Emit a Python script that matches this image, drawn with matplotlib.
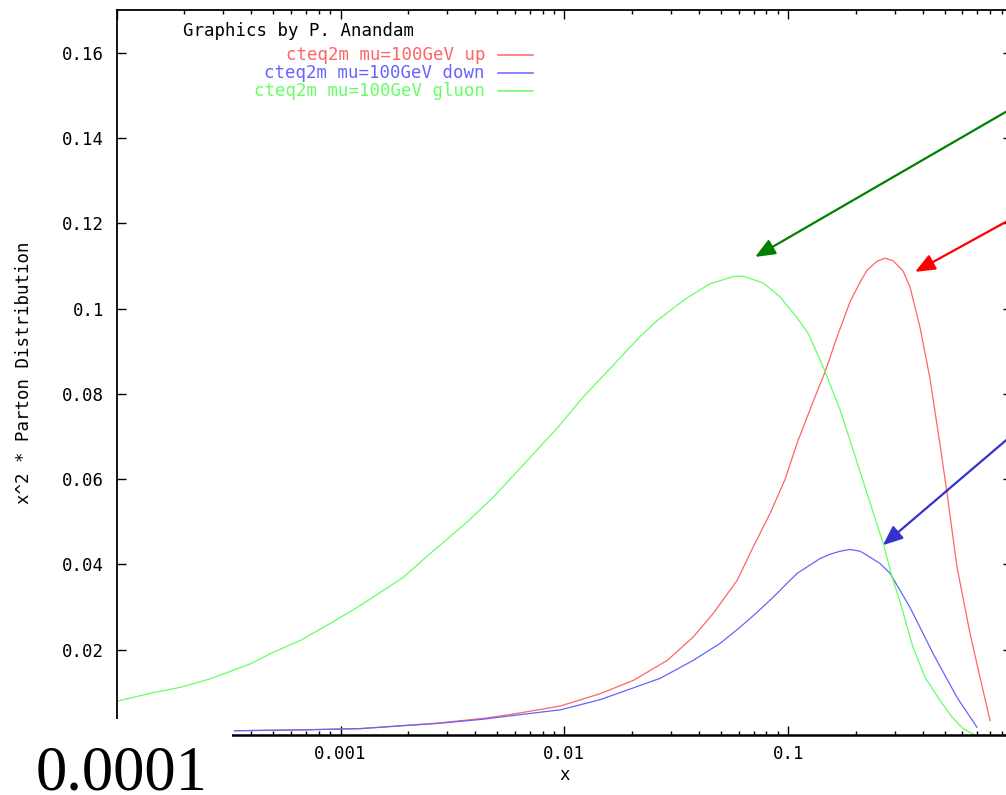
import matplotlib
matplotlib.use('Agg')
import matplotlib.pyplot as plt
from matplotlib.patches import Rectangle
from matplotlib.lines import Line2D
from matplotlib.ticker import LogLocator, FuncFormatter, NullFormatter

# values (x on log scale)
gluon_x = [1.000e-4, 1.418e-4, 1.931e-4, 2.628e-4, 3.965e-4, 4.870e-4, 6.629e-4,
           9.022e-4, 1.228e-3, 1.911e-3, 2.522e-3, 3.689e-3, 4.820e-3, 6.362e-3,
           9.306e-3, 1.2155e-2, 1.605e-2, 2.184e-2, 2.601e-2, 3.196e-2, 3.578e-2,
           4.484e-2, 5.681e-2, 6.296e-2, 7.731e-2, 9.211e-2, 0.1097, 0.1228, 0.1390,
           0.1463, 0.1707, 0.1891, 0.2096, 0.2655, 0.2913, 0.3162, 0.3614, 0.4090,
           0.4771, 0.5396, 0.6043, 0.6837]
gluon_y = [0.0079, 0.0098, 0.0112, 0.0132, 0.0167, 0.0191, 0.0222, 0.0262, 0.0304,
           0.0370, 0.0426, 0.0500, 0.0558, 0.0626, 0.0720, 0.0793, 0.0860, 0.0935,
           0.0972, 0.1008, 0.1027, 0.1058, 0.1075, 0.1076, 0.1060, 0.1027, 0.0978,
           0.0942, 0.0879, 0.0852, 0.0762, 0.0690, 0.0617, 0.0450, 0.0370, 0.0312,
           0.0205, 0.0135, 0.0081, 0.0042, 0.0015, 0.0000]

up_x = [3.363e-4, 6.629e-4, 1.228e-3, 2.710e-3, 4.347e-3, 5.741e-3, 9.597e-3,
        1.448e-2, 2.033e-2, 2.883e-2, 3.766e-2, 4.625e-2, 5.920e-2, 6.979e-2,
        8.310e-2, 9.696e-2, 0.1097, 0.1293, 0.1463, 0.1655, 0.1891, 0.2096, 0.2253,
        0.2496, 0.2710, 0.2943, 0.3261, 0.3504, 0.3885, 0.4304, 0.4771, 0.5126,
        0.5682, 0.6494, 0.7197, 0.7978]
up_y = [0.0010, 0.0012, 0.0015, 0.0028, 0.0039, 0.0048, 0.0068, 0.0097, 0.0128,
        0.0175, 0.0230, 0.0285, 0.0363, 0.0441, 0.0520, 0.0600, 0.0685, 0.0782,
        0.0852, 0.0934, 0.1016, 0.1062, 0.1090, 0.1111, 0.1118, 0.1112, 0.1088,
        0.1050, 0.0955, 0.0835, 0.0680, 0.0567, 0.0393, 0.0238, 0.0135, 0.0034]

down_x = [3.363e-4, 6.629e-4, 1.228e-3, 2.710e-3, 4.347e-3, 5.741e-3, 9.597e-3,
          1.448e-2, 2.683e-2, 3.766e-2, 4.970e-2, 6.105e-2, 7.272e-2, 8.570e-2,
          9.898e-2, 0.1097, 0.1390, 0.1540, 0.1707, 0.1891, 0.2096, 0.2323, 0.2574,
          0.2853, 0.3504, 0.4439, 0.5682, 0.6977]
down_y = [0.0010, 0.0012, 0.0015, 0.0027, 0.0037, 0.0045, 0.0059, 0.0083, 0.0133,
          0.0175, 0.0215, 0.0253, 0.0288, 0.0323, 0.0356, 0.0379, 0.0414, 0.0424,
          0.0431, 0.0435, 0.0431, 0.0417, 0.0402, 0.0379, 0.0299, 0.0191, 0.0088,
          0.0018]

labels = ['cteq2m mu=100GeV up', 'cteq2m mu=100GeV down', 'cteq2m mu=100GeV gluon']
colors = ['#ff6464', '#6464ff', '#64ff64']

# annotation arrows: (tail, tip) in data coords, tails lie off the right edge
arrow_tails = [(1.478, 0.1521), (1.478, 0.1260), (1.478, 0.0779)]
arrow_tips = [(0.0712, 0.1121), (0.369, 0.1086), (0.265, 0.0445)]
arrow_colors = ['#008000', '#ff0000', '#3333cc']

W, H = 1006, 795


def fig_xy(px, py):
    return px / W, 1 - py / H


def xfmt(v, pos):
    # only the decades that show up in the reference get a label
    if v < 5e-4 or v > 0.5:
        return ''
    return f'{v:g}'


plt.rcParams['font.family'] = 'DejaVu Sans Mono'
mono = 12.5

fig = plt.figure(figsize=(W / 100, H / 100), dpi=100)
ax = fig.add_axes([116.7 / W, 1 - 735 / H, (1012 - 116.7) / W, 725 / H])

ax.plot(up_x, up_y, color=colors[0], lw=0.9)
ax.plot(down_x, down_y, color=colors[1], lw=0.9)
ax.plot(gluon_x, gluon_y, color=colors[2], lw=0.9)

ax.set_xscale('log')
ax.set_xlim(1e-4, 1)
ax.set_ylim(0, 0.17)
ax.set_yticks([0, 0.02, 0.04, 0.06, 0.08, 0.1, 0.12, 0.14, 0.16])
ax.yaxis.set_major_formatter(FuncFormatter(lambda v, p: f'{v:g}' if v > 0 else ''))
ax.xaxis.set_major_locator(LogLocator(base=10, numticks=10))
ax.xaxis.set_minor_locator(LogLocator(base=10, subs=range(2, 10), numticks=50))
ax.xaxis.set_major_formatter(FuncFormatter(xfmt))
ax.xaxis.set_minor_formatter(NullFormatter())

ax.tick_params(which='both', direction='in', top=True, right=True,
               labelsize=mono, width=1)
ax.tick_params(which='major', length=6.5)
ax.tick_params(which='minor', length=3.2)
ax.tick_params(axis='y', pad=9)
ax.tick_params(axis='x', pad=7)
for s in ax.spines.values():
    s.set_linewidth(1.3)
ax.spines['bottom'].set_linewidth(1.8)

ax.set_xlabel('x', fontsize=mono, labelpad=2)
ax.set_ylabel('x^2 * Parton Distribution', fontsize=mono, labelpad=21)

for tail, tip, c in zip(arrow_tails, arrow_tips, arrow_colors):
    ax.annotate('', xy=tip, xytext=tail, annotation_clip=False,
                arrowprops=dict(arrowstyle='-|>,head_length=0.6,head_width=0.25',
                                mutation_scale=20, lw=1.6, color=c,
                                shrinkA=0, shrinkB=0))

# gnuplot style key, text right aligned in front of the sample line
fig.text(*fig_xy(183, 31), 'Graphics by P. Anandam', fontsize=mono,
         ha='left', va='center', color='black')
for i, (lab, c) in enumerate(zip(labels, colors)):
    yy = 54.5 + 18 * i
    fig.text(*fig_xy(485, yy), lab, fontsize=mono, ha='right', va='center', color=c)
    x0, y0 = fig_xy(498, yy)
    x1, _ = fig_xy(533, yy)
    fig.add_artist(Line2D([x0, x1], [y0, y0], color=c, lw=1.1,
                          transform=fig.transFigure))

# pasted white block over the lower left corner with a big serif label
fig.add_artist(Rectangle((0, 0), 232 / W, (H - 719) / H, transform=fig.transFigure,
                         facecolor='white', edgecolor='none', zorder=5))
fig.text(36 / W, 1 - 789 / H, '0.0001', fontsize=45, family='Liberation Serif',
         ha='left', va='baseline', zorder=6)

fig.savefig('out.png', dpi=100)
